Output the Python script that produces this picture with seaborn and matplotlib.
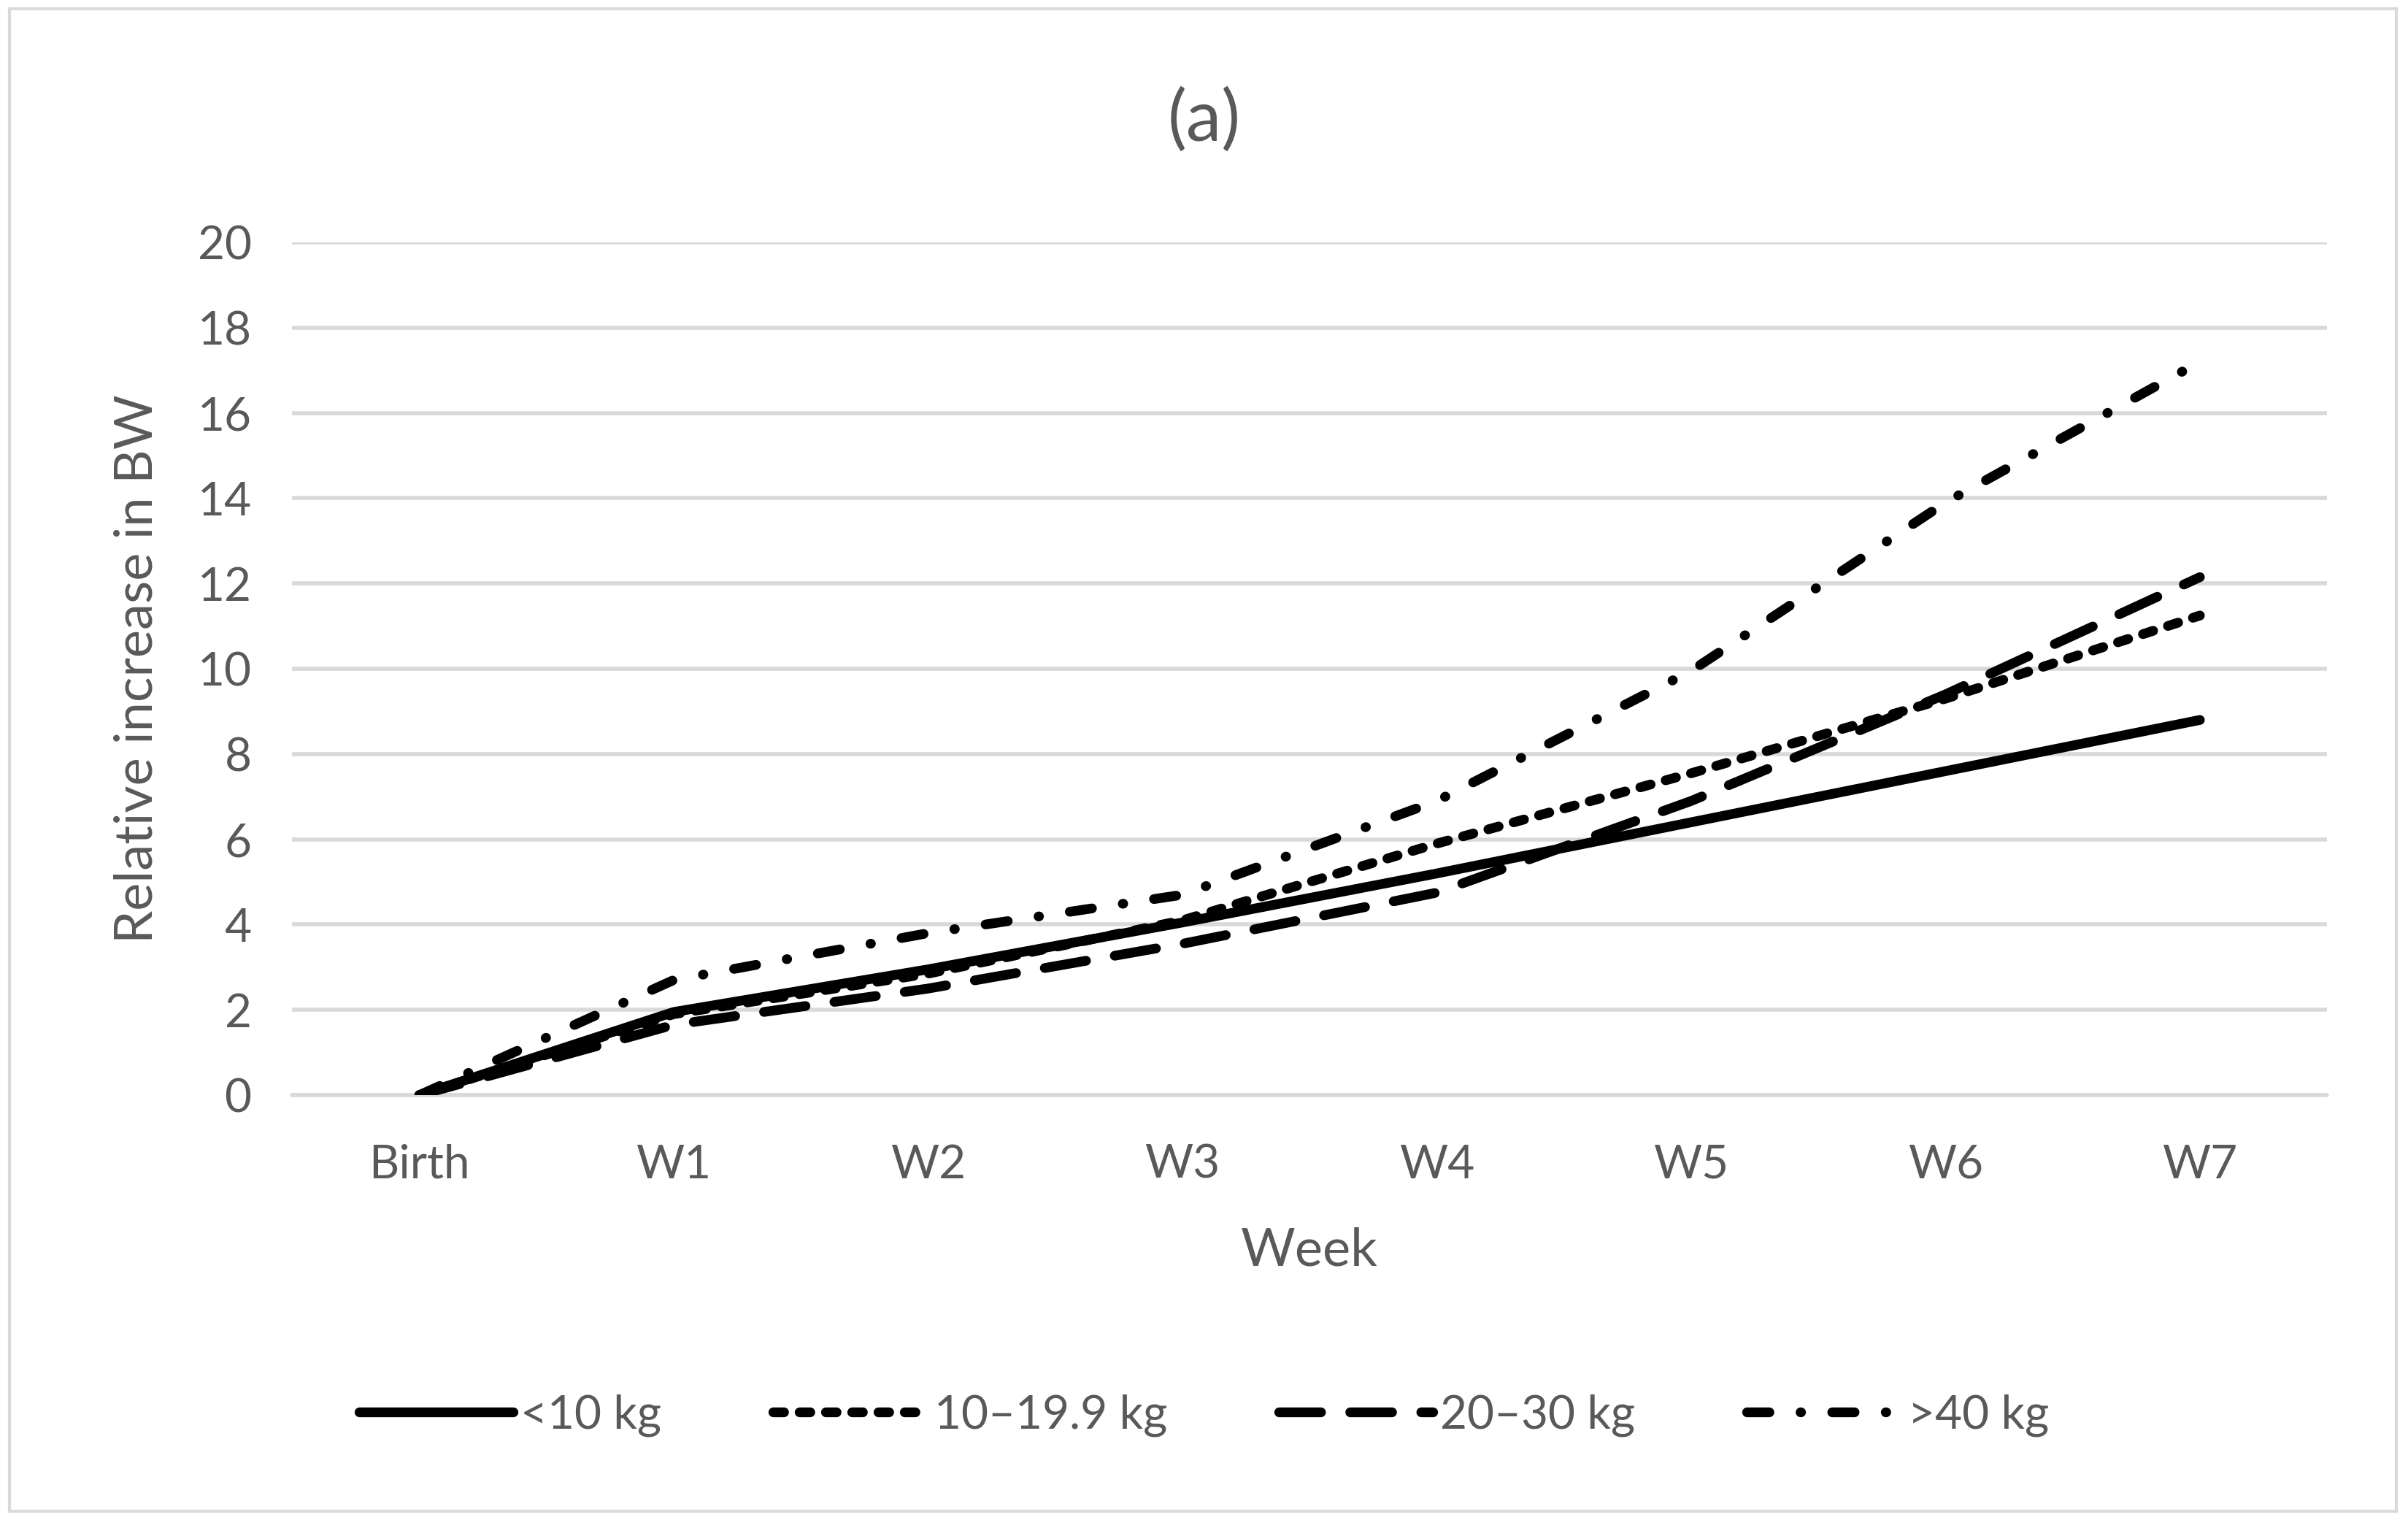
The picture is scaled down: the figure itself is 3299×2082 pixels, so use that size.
import matplotlib
matplotlib.use("Agg")
import matplotlib.pyplot as plt
import seaborn as sns
import pandas as pd
from matplotlib.patches import Rectangle

weeks = ["Birth", "W1", "W2", "W3", "W4", "W5", "W6", "W7"]
lt10 = [0, 1.95, 2.95, 4.05, 5.2, 6.4, 7.6, 8.8]
g10_19 = [0, 1.9, 2.85, 4.1, 5.9, 7.55, 9.3, 11.25]
g20_30 = [0, 1.65, 2.5, 3.55, 4.75, 6.9, 9.4, 12.15]
gt40 = [0, 2.7, 3.8, 4.7, 6.9, 9.95, 13.9, 17.2]
series_names = ["<10 kg", "10\u201319.9 kg", "20\u201330 kg", ">40 kg"]
yticks = [0, 2, 4, 6, 8, 10, 12, 14, 16, 18, 20]

sns.set_theme(style="white")
plt.rcParams["font.family"] = ["Lato", "DejaVu Sans"]

TEXT = "#595959"
GRID = "#d9d9d9"

fig = plt.figure(figsize=(16.495, 10.41), dpi=200)
ax = fig.add_axes([0.1213, 0.2795, 0.8451, 0.561])

rows = []
for name, vals in zip(series_names, [lt10, g10_19, g20_30, gt40]):
    for i, v in enumerate(vals):
        rows.append({"x": i, "y": v, "series": name})
df = pd.DataFrame(rows)

dash_styles = {
    series_names[0]: None,
    series_names[1]: (1.1, 1.6),
    series_names[2]: (4.3, 3.0),
    series_names[3]: (2.3, 3.2, 0.05, 3.2),
}
lw = 4.8
for name in series_names:
    sub = df[df["series"] == name]
    sns.lineplot(data=sub, x="x", y="y", ax=ax, color="black", lw=lw,
                 label=name, legend=False)
    line = ax.lines[-1]
    line.set_solid_capstyle("round")
    line.set_dash_capstyle("round")
    line.set_solid_joinstyle("round")
    if dash_styles[name] is not None:
        line.set_dashes(dash_styles[name])

ax.set_xlim(-0.5, 7.5)
ax.set_ylim(0, 20)
ax.set_xticks(range(len(weeks)))
ax.set_xticklabels(weeks)
ax.set_yticks(yticks)
ax.set_yticklabels([str(t) for t in yticks])
ax.yaxis.grid(True, color=GRID, lw=2.0)
ax.xaxis.grid(False)
ax.set_axisbelow(True)
for s in ax.spines.values():
    s.set_visible(False)
ax.axhline(0, color=GRID, lw=2.0, zorder=0.5, clip_on=False)
ax.tick_params(axis="both", length=0, labelsize=23, labelcolor=TEXT)
ax.tick_params(axis="x", pad=24)
ax.tick_params(axis="y", pad=20)
ax.set_xlabel("Week", fontsize=26, color=TEXT, labelpad=20)
ax.set_ylabel("Relative increase in BW", fontsize=26, color=TEXT, labelpad=18)

fig.text(0.5, 0.921, "(a)", ha="center", va="center", fontsize=35, color=TEXT)

handles = ax.lines[:4]
leg = fig.legend(handles, series_names, loc="center", bbox_to_anchor=(0.5, 0.069),
                 ncol=4, frameon=False, fontsize=23, handlelength=3.3,
                 handletextpad=0.15, columnspacing=2.4, labelcolor=TEXT)

fig.patches.append(Rectangle((0.004, 0.006), 0.991, 0.988, transform=fig.transFigure,
                             fill=False, edgecolor=GRID, lw=1.5))

fig.savefig("out.png", dpi=200, facecolor="white")
